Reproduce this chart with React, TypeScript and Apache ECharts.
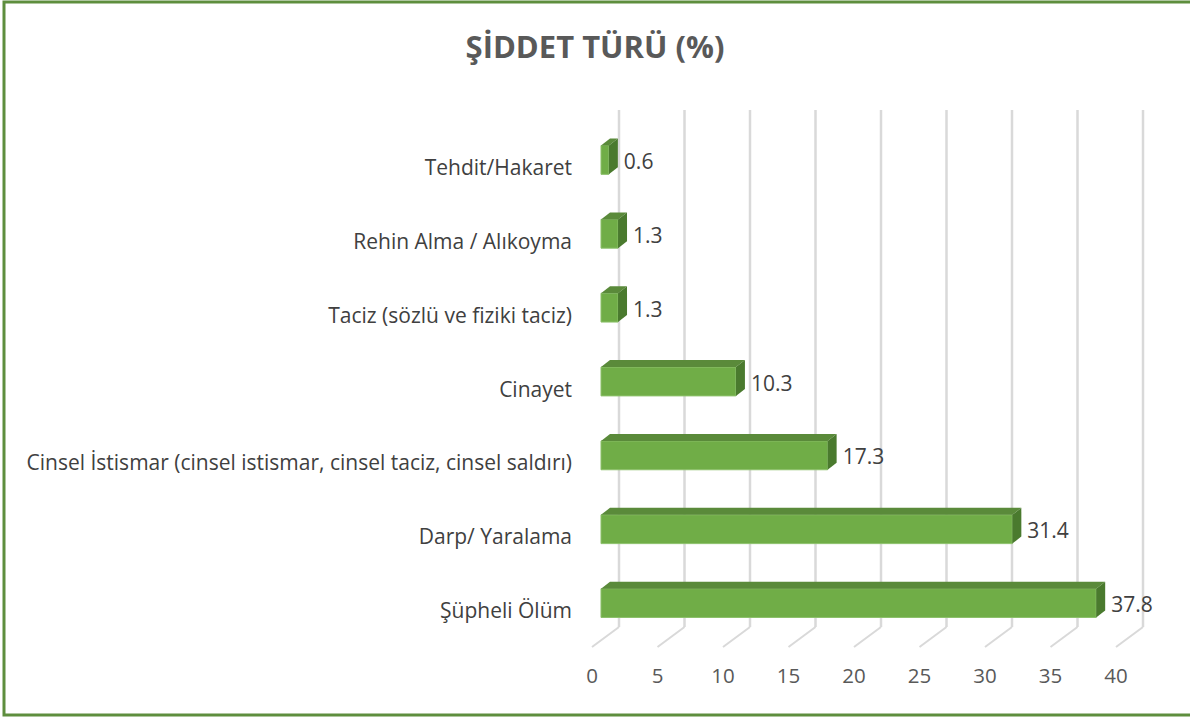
import React, { useEffect, useRef } from "react";
import * as echarts from "echarts";

const categories = [
  "Tehdit/Hakaret",
  "Rehin Alma / Alıkoyma",
  "Taciz (sözlü ve fiziki taciz)",
  "Cinayet",
  "Cinsel İstismar (cinsel istismar, cinsel taciz, cinsel saldırı)",
  "Darp/ Yaralama",
  "Şüpheli Ölüm",
];
const values = [0.6, 1.3, 1.3, 10.3, 17.3, 31.4, 37.8];
const xTicks = [0, 5, 10, 15, 20, 25, 30, 35, 40];
const titleText = "ŞİDDET TÜRÜ (%)";

const FONT = "'Open Sans', 'Noto Sans', sans-serif";
const WALL_DX = 27;
const WALL_DY = -20;
const BAR_OFF_X = 9;
const BAR_OFF_Y = -7;
const DEPTH_X = 9;
const DEPTH_Y = -7;

export default function App() {
  const ref = useRef<HTMLDivElement>(null);
  useEffect(() => {
    if (!ref.current) return;
    const chart = echarts.init(ref.current, undefined, { renderer: "svg" });
    const option: any = {
      animation: false,
      backgroundColor: "#ffffff",
      title: {
        text: titleText,
        left: "center",
        top: 25,
        textStyle: { fontFamily: FONT, fontSize: 31, fontWeight: "bold", color: "#595959" },
      },
      graphic: [
        {
          type: "rect",
          shape: { x: 4, y: 2, width: 1192, height: 713 },
          style: { fill: "none", stroke: "#5E8E3E", lineWidth: 3 },
          z: 100,
        },
      ],
      grid: { left: 592, top: 130, width: 524, height: 517 },
      xAxis: {
        type: "value",
        min: 0,
        max: 40,
        interval: 5,
        axisLine: { show: false },
        axisTick: { show: false },
        splitLine: { show: false },
        axisLabel: { color: "#595959", fontSize: 20.5, fontFamily: FONT, margin: 17 },
      },
      yAxis: {
        type: "category",
        inverse: true,
        data: categories,
        axisLine: { show: false },
        axisTick: { show: false },
        splitLine: { show: false },
        axisLabel: {
          color: "#404040",
          fontSize: 21,
          fontFamily: FONT,
          margin: 20,
          padding: [0, 0, 8, 0],
        },
      },
      series: [
        {
          type: "custom",
          z: 1,
          silent: true,
          data: xTicks.map((t) => [t, 0]),
          encode: { x: 0, y: 1 },
          renderItem: (params: any, api: any) => {
            const cs = params.coordSys;
            const x = api.coord([api.value(0), 0])[0];
            const top = cs.y;
            const bottom = cs.y + cs.height;
            const style = { stroke: "#D9D9D9", lineWidth: 2.5, fill: "none" };
            return {
              type: "group",
              children: [
                {
                  type: "line",
                  shape: { x1: x + WALL_DX, y1: top + WALL_DY, x2: x + WALL_DX, y2: bottom + WALL_DY },
                  style,
                },
                {
                  type: "line",
                  shape: { x1: x + WALL_DX, y1: bottom + WALL_DY, x2: x, y2: bottom },
                  style: { ...style, lineWidth: 2 },
                },
              ],
            };
          },
        },
        {
          type: "custom",
          z: 2,
          data: values.map((v, i) => [v, i]),
          encode: { x: 0, y: 1 },
          renderItem: (params: any, api: any) => {
            const v = api.value(0);
            const idx = api.value(1);
            const s = api.coord([0, idx]);
            const e = api.coord([v, idx]);
            const band = api.size([0, 1])[1];
            const h = band * 0.39;
            const x0 = s[0] + BAR_OFF_X;
            const x1 = e[0] + BAR_OFF_X;
            const cy = s[1] + BAR_OFF_Y;
            const yT = cy - h / 2;
            const yB = cy + h / 2;
            return {
              type: "group",
              children: [
                {
                  type: "rect",
                  shape: { x: x0, y: yT, width: x1 - x0, height: h },
                  style: { fill: "#70AD47", stroke: "#8CC06A", lineWidth: 1 },
                },
                {
                  type: "polygon",
                  shape: {
                    points: [
                      [x0, yT],
                      [x0 + DEPTH_X, yT + DEPTH_Y],
                      [x1 + DEPTH_X, yT + DEPTH_Y],
                      [x1, yT],
                    ],
                  },
                  style: { fill: "#5A8A3A" },
                },
                {
                  type: "polygon",
                  shape: {
                    points: [
                      [x1, yT],
                      [x1 + DEPTH_X, yT + DEPTH_Y],
                      [x1 + DEPTH_X, yB + DEPTH_Y],
                      [x1, yB],
                    ],
                  },
                  style: { fill: "#4A7A2E" },
                },
                {
                  type: "text",
                  x: x1 + DEPTH_X + 6,
                  y: cy + 1,
                  style: {
                    text: String(v),
                    fill: "#404040",
                    fontSize: 21,
                    fontFamily: FONT,
                    align: "left",
                    verticalAlign: "middle",
                  },
                },
              ],
            };
          },
        },
      ],
    };
    chart.setOption(option);
    return () => chart.dispose();
  }, []);
  return (
    <div
      ref={ref}
      style={{ position: "fixed", left: 0, top: 0, width: 1190, height: 719 }}
    />
  );
}
